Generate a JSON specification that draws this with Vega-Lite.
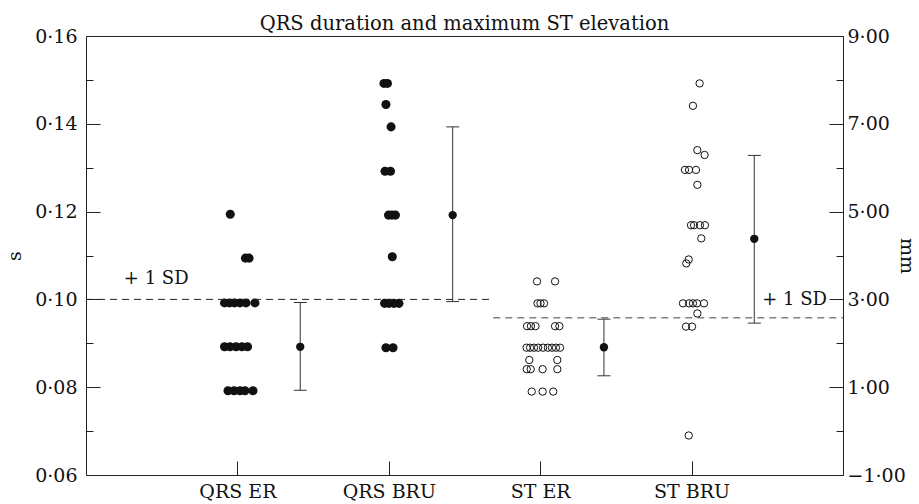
{
  "$schema": "https://vega.github.io/schema/vega-lite/v6.json",
  "width": 757,
  "height": 439,
  "autosize": "none",
  "padding": {"left": 86, "top": 36, "right": 76, "bottom": 29},
  "background": "white",
  "title": {"text": "QRS duration and maximum ST elevation", "font": "DejaVu Serif", "fontSize": 19.5, "fontWeight": "normal", "color": "#111", "anchor": "middle", "baseline": "alphabetic", "offset": -1, "dy": 21},
  "config": {
    "view": {"stroke": "#222", "strokeWidth": 1},
    "font": "DejaVu Serif",
    "axis": {"grid": false, "domain": false, "labelFont": "DejaVu Serif", "labelFontSize": 19, "labelColor": "#111", "tickColor": "#222", "titleFont": "DejaVu Serif", "titleFontSize": 19, "titleFontWeight": "normal", "titleColor": "#111"}
  },
  "datasets": {
    "qrs": [
      {"g": "QRS ER", "x": 0.953, "s": 0.1194},
      {"g": "QRS ER", "x": 1.053, "s": 0.1094},
      {"g": "QRS ER", "x": 1.077, "s": 0.1094},
      {"g": "QRS ER", "x": 0.915, "s": 0.0992},
      {"g": "QRS ER", "x": 0.948, "s": 0.0992},
      {"g": "QRS ER", "x": 0.981, "s": 0.0992},
      {"g": "QRS ER", "x": 1.017, "s": 0.0992},
      {"g": "QRS ER", "x": 1.057, "s": 0.0992},
      {"g": "QRS ER", "x": 1.116, "s": 0.0992},
      {"g": "QRS ER", "x": 0.915, "s": 0.0892},
      {"g": "QRS ER", "x": 0.951, "s": 0.0892},
      {"g": "QRS ER", "x": 0.991, "s": 0.0892},
      {"g": "QRS ER", "x": 1.030, "s": 0.0892},
      {"g": "QRS ER", "x": 1.067, "s": 0.0892},
      {"g": "QRS ER", "x": 0.938, "s": 0.0792},
      {"g": "QRS ER", "x": 0.978, "s": 0.0792},
      {"g": "QRS ER", "x": 1.017, "s": 0.0792},
      {"g": "QRS ER", "x": 1.050, "s": 0.0792},
      {"g": "QRS ER", "x": 1.103, "s": 0.0792},
      {"g": "QRS BRU", "x": 1.968, "s": 0.1492},
      {"g": "QRS BRU", "x": 1.991, "s": 0.1492},
      {"g": "QRS BRU", "x": 1.981, "s": 0.1444},
      {"g": "QRS BRU", "x": 2.015, "s": 0.1393},
      {"g": "QRS BRU", "x": 1.975, "s": 0.1292},
      {"g": "QRS BRU", "x": 2.011, "s": 0.1292},
      {"g": "QRS BRU", "x": 1.998, "s": 0.1192},
      {"g": "QRS BRU", "x": 2.021, "s": 0.1192},
      {"g": "QRS BRU", "x": 2.044, "s": 0.1192},
      {"g": "QRS BRU", "x": 2.023, "s": 0.1097},
      {"g": "QRS BRU", "x": 1.972, "s": 0.0991},
      {"g": "QRS BRU", "x": 2.001, "s": 0.0991},
      {"g": "QRS BRU", "x": 2.034, "s": 0.0991},
      {"g": "QRS BRU", "x": 2.067, "s": 0.0991},
      {"g": "QRS BRU", "x": 1.981, "s": 0.0890},
      {"g": "QRS BRU", "x": 2.028, "s": 0.0890}
    ],
    "st": [
      {"g": "ST ER", "x": 2.979, "mm": 3.41},
      {"g": "ST ER", "x": 3.098, "mm": 3.41},
      {"g": "ST ER", "x": 2.982, "mm": 2.91},
      {"g": "ST ER", "x": 3.002, "mm": 2.91},
      {"g": "ST ER", "x": 3.025, "mm": 2.91},
      {"g": "ST ER", "x": 2.913, "mm": 2.39},
      {"g": "ST ER", "x": 2.939, "mm": 2.39},
      {"g": "ST ER", "x": 2.969, "mm": 2.39},
      {"g": "ST ER", "x": 3.098, "mm": 2.39},
      {"g": "ST ER", "x": 3.127, "mm": 2.39},
      {"g": "ST ER", "x": 2.910, "mm": 1.90},
      {"g": "ST ER", "x": 2.933, "mm": 1.90},
      {"g": "ST ER", "x": 2.959, "mm": 1.90},
      {"g": "ST ER", "x": 2.986, "mm": 1.90},
      {"g": "ST ER", "x": 3.019, "mm": 1.90},
      {"g": "ST ER", "x": 3.051, "mm": 1.90},
      {"g": "ST ER", "x": 3.078, "mm": 1.90},
      {"g": "ST ER", "x": 3.104, "mm": 1.90},
      {"g": "ST ER", "x": 3.131, "mm": 1.90},
      {"g": "ST ER", "x": 2.928, "mm": 1.62},
      {"g": "ST ER", "x": 3.113, "mm": 1.62},
      {"g": "ST ER", "x": 2.911, "mm": 1.41},
      {"g": "ST ER", "x": 2.937, "mm": 1.41},
      {"g": "ST ER", "x": 3.016, "mm": 1.41},
      {"g": "ST ER", "x": 3.113, "mm": 1.41},
      {"g": "ST ER", "x": 2.944, "mm": 0.90},
      {"g": "ST ER", "x": 3.016, "mm": 0.90},
      {"g": "ST ER", "x": 3.086, "mm": 0.90},
      {"g": "ST BRU", "x": 4.053, "mm": 7.92},
      {"g": "ST BRU", "x": 4.009, "mm": 7.41},
      {"g": "ST BRU", "x": 4.038, "mm": 6.40},
      {"g": "ST BRU", "x": 4.086, "mm": 6.29},
      {"g": "ST BRU", "x": 3.956, "mm": 5.95},
      {"g": "ST BRU", "x": 3.983, "mm": 5.95},
      {"g": "ST BRU", "x": 4.029, "mm": 5.95},
      {"g": "ST BRU", "x": 4.038, "mm": 5.61},
      {"g": "ST BRU", "x": 3.996, "mm": 4.69},
      {"g": "ST BRU", "x": 4.016, "mm": 4.69},
      {"g": "ST BRU", "x": 4.055, "mm": 4.69},
      {"g": "ST BRU", "x": 4.088, "mm": 4.69},
      {"g": "ST BRU", "x": 4.064, "mm": 4.39},
      {"g": "ST BRU", "x": 3.981, "mm": 3.91},
      {"g": "ST BRU", "x": 3.965, "mm": 3.82},
      {"g": "ST BRU", "x": 3.943, "mm": 2.91},
      {"g": "ST BRU", "x": 3.983, "mm": 2.91},
      {"g": "ST BRU", "x": 4.009, "mm": 2.91},
      {"g": "ST BRU", "x": 4.036, "mm": 2.91},
      {"g": "ST BRU", "x": 4.082, "mm": 2.91},
      {"g": "ST BRU", "x": 4.038, "mm": 2.68},
      {"g": "ST BRU", "x": 3.963, "mm": 2.38},
      {"g": "ST BRU", "x": 4.003, "mm": 2.38},
      {"g": "ST BRU", "x": 3.981, "mm": -0.10}
    ],
    "qrsbars": [
      {"g": "QRS ER", "x": 1.415, "mean": 0.0892, "lo": 0.0793, "hi": 0.0993},
      {"g": "QRS BRU", "x": 2.422, "mean": 0.1192, "lo": 0.0995, "hi": 0.1393}
    ],
    "stbars": [
      {"g": "ST ER", "x": 3.421, "mean": 1.91, "lo": 1.26, "hi": 2.55},
      {"g": "ST BRU", "x": 4.414, "mean": 4.38, "lo": 2.46, "hi": 6.28}
    ],
    "qrsref": [{"x": 0, "x2": 2.69, "s": 0.1, "lx": 0.25, "ly": 0.1046, "label": "+ 1 SD"}],
    "stref": [{"x": 2.69, "x2": 5, "mm": 2.58, "lx": 4.894, "ly": 2.99, "label": "+ 1 SD"}]
  },
  "encoding": {
    "x": {
      "field": "x", "type": "quantitative",
      "scale": {"domain": [0, 5], "nice": false, "zero": false},
      "axis": {
        "values": [1, 2, 3, 4],
        "labelExpr": "datum.value == 1 ? 'QRS ER' : datum.value == 2 ? 'QRS BRU' : datum.value == 3 ? 'ST ER' : 'ST BRU'",
        "tickSize": -14, "labelPadding": 21, "title": null, "labelFlush": false
      }
    }
  },
  "layer": [
    {
      "data": {"name": "qrs"},
      "mark": {"type": "circle", "size": 82, "color": "#111", "opacity": 1},
      "encoding": {
        "y": {"field": "s", "type": "quantitative", "scale": {"domain": [0.06, 0.16], "nice": false, "zero": false},
          "axis": {"orient": "left", "values": [0.06, 0.08, 0.1, 0.12, 0.14, 0.16], "labelExpr": "replace(format(datum.value, '.2f'), '.', '·')", "tickSize": -14, "labelPadding": 23, "title": "s", "titlePadding": 10, "labelFlush": false}}
      }
    },
    {
      "data": {"name": "qrsbars"},
      "mark": {"type": "rule", "color": "#333", "strokeWidth": 1},
      "encoding": {
        "y": {"field": "lo", "type": "quantitative", "scale": {"domain": [0.06, 0.16], "nice": false, "zero": false},
          "axis": {"orient": "left", "values": [0.07, 0.09, 0.11, 0.13, 0.15], "labels": false, "tickSize": -7, "title": null}},
        "y2": {"field": "hi"}
      }
    },
    {
      "data": {"name": "qrsbars"},
      "mark": {"type": "tick", "orient": "horizontal", "size": 13, "thickness": 1, "color": "#333", "opacity": 1},
      "encoding": {"y": {"field": "lo", "type": "quantitative", "scale": {"domain": [0.06, 0.16], "nice": false, "zero": false}, "axis": null}}
    },
    {
      "data": {"name": "qrsbars"},
      "mark": {"type": "tick", "orient": "horizontal", "size": 13, "thickness": 1, "color": "#333", "opacity": 1},
      "encoding": {"y": {"field": "hi", "type": "quantitative", "scale": {"domain": [0.06, 0.16], "nice": false, "zero": false}, "axis": null}}
    },
    {
      "data": {"name": "qrsbars"},
      "mark": {"type": "circle", "size": 70, "color": "#111", "opacity": 1},
      "encoding": {"y": {"field": "mean", "type": "quantitative", "scale": {"domain": [0.06, 0.16], "nice": false, "zero": false}, "axis": null}}
    },
    {
      "data": {"name": "qrsref"},
      "mark": {"type": "rule", "color": "#222", "strokeWidth": 1, "strokeDash": [7, 5]},
      "encoding": {
        "y": {"field": "s", "type": "quantitative", "scale": {"domain": [0.06, 0.16], "nice": false, "zero": false}, "axis": null},
        "x2": {"field": "x2"}
      }
    },
    {
      "data": {"name": "qrsref"},
      "mark": {"type": "text", "align": "left", "baseline": "middle", "font": "DejaVu Serif", "fontSize": 18, "color": "#111"},
      "encoding": {
        "x": {"field": "lx", "type": "quantitative"},
        "y": {"field": "ly", "type": "quantitative", "scale": {"domain": [0.06, 0.16], "nice": false, "zero": false}, "axis": null},
        "text": {"field": "label"}
      }
    },
    {
      "data": {"name": "st"},
      "mark": {"type": "point", "shape": "circle", "size": 54, "filled": false, "color": "#111", "strokeWidth": 1, "opacity": 1},
      "encoding": {
        "y": {"field": "mm", "type": "quantitative", "scale": {"domain": [-1, 9], "nice": false, "zero": false},
          "axis": {"orient": "right", "values": [-1, 1, 3, 5, 7, 9], "labelExpr": "replace(format(datum.value, '.2f'), '.', '·')", "tickSize": -14, "labelPadding": 18, "title": "mm", "titlePadding": -9, "labelFlush": false}}
      }
    },
    {
      "data": {"name": "stbars"},
      "mark": {"type": "rule", "color": "#333", "strokeWidth": 1},
      "encoding": {
        "y": {"field": "lo", "type": "quantitative", "scale": {"domain": [-1, 9], "nice": false, "zero": false},
          "axis": {"orient": "right", "values": [0, 2, 4, 6, 8], "labels": false, "tickSize": -7, "title": null}},
        "y2": {"field": "hi"}
      }
    },
    {
      "data": {"name": "stbars"},
      "mark": {"type": "tick", "orient": "horizontal", "size": 13, "thickness": 1, "color": "#333", "opacity": 1},
      "encoding": {"y": {"field": "lo", "type": "quantitative", "scale": {"domain": [-1, 9], "nice": false, "zero": false}, "axis": null}}
    },
    {
      "data": {"name": "stbars"},
      "mark": {"type": "tick", "orient": "horizontal", "size": 13, "thickness": 1, "color": "#333", "opacity": 1},
      "encoding": {"y": {"field": "hi", "type": "quantitative", "scale": {"domain": [-1, 9], "nice": false, "zero": false}, "axis": null}}
    },
    {
      "data": {"name": "stbars"},
      "mark": {"type": "circle", "size": 70, "color": "#111", "opacity": 1},
      "encoding": {"y": {"field": "mean", "type": "quantitative", "scale": {"domain": [-1, 9], "nice": false, "zero": false}, "axis": null}}
    },
    {
      "data": {"name": "stref"},
      "mark": {"type": "rule", "color": "#444", "strokeWidth": 1, "strokeDash": [7, 5]},
      "encoding": {
        "y": {"field": "mm", "type": "quantitative", "scale": {"domain": [-1, 9], "nice": false, "zero": false}, "axis": null},
        "x2": {"field": "x2"}
      }
    },
    {
      "data": {"name": "stref"},
      "mark": {"type": "text", "align": "right", "baseline": "middle", "font": "DejaVu Serif", "fontSize": 18, "color": "#111"},
      "encoding": {
        "x": {"field": "lx", "type": "quantitative"},
        "y": {"field": "ly", "type": "quantitative", "scale": {"domain": [-1, 9], "nice": false, "zero": false}, "axis": null},
        "text": {"field": "label"}
      }
    }
  ],
  "resolve": {"scale": {"y": "independent"}}
}
